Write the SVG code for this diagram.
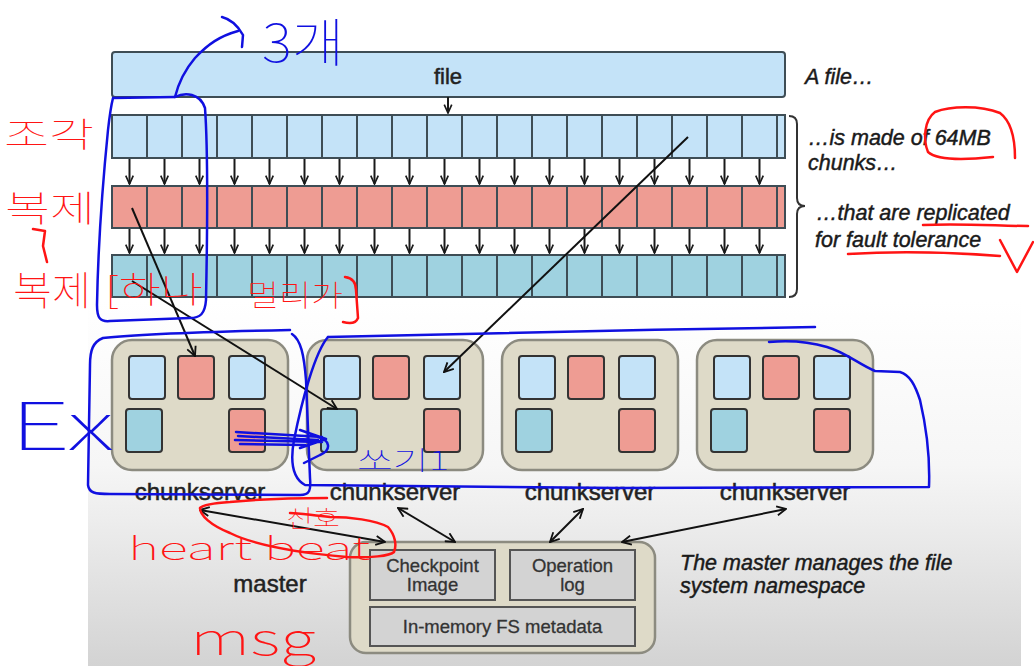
<svg xmlns="http://www.w3.org/2000/svg" width="1034" height="666" viewBox="0 0 1034 666">
<style>
.t{font-family:"Liberation Sans",Arial,sans-serif;fill:#222;stroke:#222;stroke-width:0.5}
.it{font-family:"Liberation Sans",Arial,sans-serif;font-style:italic;fill:#1a1a1a;stroke:#1a1a1a;stroke-width:0.45;font-size:21.5px}
.bar{stroke:#3e4d55;stroke-width:2}
.c1{fill:#c4e3f8}
.c2{fill:#ee9c93}
.c3{fill:#9fd2e0}
.div{stroke:#3e4d55;stroke-width:2}
.cs{fill:#dedac8;stroke:#8c8b80;stroke-width:2.5}
.sq{stroke:#333;stroke-width:2}
.ib{fill:#d3d3d3;stroke:#555;stroke-width:2}
.mt{font-family:"Liberation Sans",Arial,sans-serif;fill:#333;stroke:#333;stroke-width:0.3;font-size:18.5px;text-anchor:middle}
.ln{stroke:#111;stroke-width:2;fill:none}
.ra{stroke:#1a1a1a;stroke-width:2;fill:none}
.red{stroke:#ff1414;stroke-width:2.5;fill:none;stroke-linecap:round;stroke-linejoin:round}
.blue{stroke:#1010e0;stroke-width:2.5;fill:none;stroke-linecap:round;stroke-linejoin:round}
.rt{font-family:"Noto Sans CJK KR","Liberation Sans",sans-serif;fill:#ff1414;font-weight:100}
.bt{font-family:"Noto Sans CJK KR","Liberation Sans",sans-serif;fill:#1010e0;font-weight:100}
</style>
<defs>
<marker id="v" viewBox="0 0 12 12" refX="11" refY="6" markerWidth="11" markerHeight="11" markerUnits="userSpaceOnUse" orient="auto-start-reverse"><path d="M1,1 L11,6 L1,11" fill="none" stroke="#111" stroke-width="2"/></marker>
<marker id="vs" viewBox="0 0 12 12" refX="11" refY="6" markerWidth="10" markerHeight="10" markerUnits="userSpaceOnUse" orient="auto"><path d="M1,1.5 L11,6 L1,10.5" fill="none" stroke="#1a1a1a" stroke-width="2"/></marker>
<linearGradient id="bg" x1="0" y1="0" x2="0" y2="1">
<stop offset="0" stop-color="#ffffff"/>
<stop offset="0.45" stop-color="#f6f6f6"/>
<stop offset="0.6" stop-color="#ededed"/>
<stop offset="1" stop-color="#d3d3d3"/>
</linearGradient>
</defs>
<rect x="0" y="0" width="1034" height="666" fill="#ffffff"/>
<rect x="88" y="300" width="933" height="366" fill="url(#bg)"/>

<g id="file">
<rect x="112" y="52" width="673" height="45" rx="3" class="c1 bar" stroke-width="2.5"/>
<text x="448" y="84" class="t" font-size="22" text-anchor="middle">file</text>
<text x="805" y="84" class="it">A file…</text>
</g>

<g id="chunks-row">
<rect x="112" y="115" width="673" height="43" class="c1 bar"/>
<path class="div" d="M147,115V158M182,115V158M217,115V158M252,115V158M287,115V158M322,115V158M357,115V158M392,115V158M427,115V158M462,115V158M497,115V158M532,115V158M567,115V158M602,115V158M637,115V158M672,115V158M707,115V158M742,115V158M777,115V158"/>
<text x="808" y="145" class="it">…is made of 64MB</text>
<text x="808" y="170" class="it">chunks…</text>
</g>

<g id="replica-row-1">
<rect x="112" y="186" width="673" height="42" class="c2 bar"/>
<path class="div" d="M147,186V228M182,186V228M217,186V228M252,186V228M287,186V228M322,186V228M357,186V228M392,186V228M427,186V228M462,186V228M497,186V228M532,186V228M567,186V228M602,186V228M637,186V228M672,186V228M707,186V228M742,186V228M777,186V228"/>
</g>

<g id="replica-row-2">
<rect x="112" y="255" width="673" height="42" class="c3 bar"/>
<path class="div" d="M147,255V297M182,255V297M217,255V297M252,255V297M287,255V297M322,255V297M357,255V297M392,255V297M427,255V297M462,255V297M497,255V297M532,255V297M567,255V297M602,255V297M637,255V297M672,255V297M707,255V297M742,255V297M777,255V297"/>
</g>

<g id="brace">
<path d="M789,116 Q797,116 797,124 L797,198 Q797,206 805,206 Q797,206 797,214 L797,289 Q797,297 789,297" fill="none" stroke="#333" stroke-width="2"/>
<text x="816" y="220" class="it">…that are replicated</text>
<text x="815" y="247" class="it">for fault tolerance</text>
</g>

<g id="chunkserver-1">
<rect x="112" y="340" width="176" height="130" rx="20" class="cs"/>
<rect x="129" y="356" width="36" height="43" rx="3" class="sq c1"/>
<rect x="178" y="356" width="36" height="43" rx="3" class="sq c2"/>
<rect x="229" y="356" width="36" height="43" rx="3" class="sq c1"/>
<rect x="126" y="409" width="36" height="43" rx="3" class="sq c3"/>
<rect x="229" y="409" width="36" height="43" rx="3" class="sq c2"/>
<text x="200" y="500" class="t" font-size="24" text-anchor="middle">chunkserver</text>
</g>
<g id="chunkserver-2">
<rect x="307" y="340" width="176" height="130" rx="20" class="cs"/>
<rect x="324" y="356" width="36" height="43" rx="3" class="sq c1"/>
<rect x="373" y="356" width="36" height="43" rx="3" class="sq c2"/>
<rect x="424" y="356" width="36" height="43" rx="3" class="sq c1"/>
<rect x="321" y="409" width="36" height="43" rx="3" class="sq c3"/>
<rect x="424" y="409" width="36" height="43" rx="3" class="sq c2"/>
<text x="395" y="500" class="t" font-size="24" text-anchor="middle">chunkserver</text>
</g>
<g id="chunkserver-3">
<rect x="502" y="340" width="176" height="130" rx="20" class="cs"/>
<rect x="519" y="356" width="36" height="43" rx="3" class="sq c1"/>
<rect x="568" y="356" width="36" height="43" rx="3" class="sq c2"/>
<rect x="619" y="356" width="36" height="43" rx="3" class="sq c1"/>
<rect x="516" y="409" width="36" height="43" rx="3" class="sq c3"/>
<rect x="619" y="409" width="36" height="43" rx="3" class="sq c2"/>
<text x="590" y="500" class="t" font-size="24" text-anchor="middle">chunkserver</text>
</g>
<g id="chunkserver-4">
<rect x="697" y="340" width="176" height="130" rx="20" class="cs"/>
<rect x="714" y="356" width="36" height="43" rx="3" class="sq c1"/>
<rect x="763" y="356" width="36" height="43" rx="3" class="sq c2"/>
<rect x="814" y="356" width="36" height="43" rx="3" class="sq c1"/>
<rect x="711" y="409" width="36" height="43" rx="3" class="sq c3"/>
<rect x="814" y="409" width="36" height="43" rx="3" class="sq c2"/>
<text x="785" y="500" class="t" font-size="24" text-anchor="middle">chunkserver</text>
</g>

<g id="master">
<rect x="350" y="542" width="305" height="111" rx="16" class="cs"/>
<rect x="370" y="550" width="125" height="50" class="ib"/>
<rect x="510" y="550" width="125" height="50" class="ib"/>
<rect x="370" y="607" width="265" height="39" class="ib"/>
<text x="432.5" y="572" class="mt">Checkpoint</text>
<text x="432.5" y="591" class="mt">Image</text>
<text x="572.5" y="572" class="mt">Operation</text>
<text x="572.5" y="591" class="mt">log</text>
<text x="502.5" y="633" class="mt">In-memory FS metadata</text>
<text x="270" y="592" class="t" font-size="24" text-anchor="middle">master</text>
<text x="680" y="570" class="it" font-size="20.5">The master manages the file</text>
<text x="680" y="593" class="it" font-size="20.5">system namespace</text>
</g>

<g id="connectors">
<line x1="448" y1="97" x2="448" y2="113" class="ra" marker-end="url(#vs)"/>
<path class="ra" marker-end="url(#vs)" d="M129.5,159V184"/>
<path class="ra" marker-end="url(#vs)" d="M164.5,159V184"/>
<path class="ra" marker-end="url(#vs)" d="M199.5,159V184"/>
<path class="ra" marker-end="url(#vs)" d="M234.5,159V184"/>
<path class="ra" marker-end="url(#vs)" d="M269.5,159V184"/>
<path class="ra" marker-end="url(#vs)" d="M304.5,159V184"/>
<path class="ra" marker-end="url(#vs)" d="M339.5,159V184"/>
<path class="ra" marker-end="url(#vs)" d="M374.5,159V184"/>
<path class="ra" marker-end="url(#vs)" d="M409.5,159V184"/>
<path class="ra" marker-end="url(#vs)" d="M444.5,159V184"/>
<path class="ra" marker-end="url(#vs)" d="M479.5,159V184"/>
<path class="ra" marker-end="url(#vs)" d="M514.5,159V184"/>
<path class="ra" marker-end="url(#vs)" d="M549.5,159V184"/>
<path class="ra" marker-end="url(#vs)" d="M584.5,159V184"/>
<path class="ra" marker-end="url(#vs)" d="M619.5,159V184"/>
<path class="ra" marker-end="url(#vs)" d="M654.5,159V184"/>
<path class="ra" marker-end="url(#vs)" d="M689.5,159V184"/>
<path class="ra" marker-end="url(#vs)" d="M724.5,159V184"/>
<path class="ra" marker-end="url(#vs)" d="M759.5,159V184"/>
<path class="ra" marker-end="url(#vs)" d="M129.5,229V253"/>
<path class="ra" marker-end="url(#vs)" d="M164.5,229V253"/>
<path class="ra" marker-end="url(#vs)" d="M199.5,229V253"/>
<path class="ra" marker-end="url(#vs)" d="M234.5,229V253"/>
<path class="ra" marker-end="url(#vs)" d="M269.5,229V253"/>
<path class="ra" marker-end="url(#vs)" d="M304.5,229V253"/>
<path class="ra" marker-end="url(#vs)" d="M339.5,229V253"/>
<path class="ra" marker-end="url(#vs)" d="M374.5,229V253"/>
<path class="ra" marker-end="url(#vs)" d="M409.5,229V253"/>
<path class="ra" marker-end="url(#vs)" d="M444.5,229V253"/>
<path class="ra" marker-end="url(#vs)" d="M479.5,229V253"/>
<path class="ra" marker-end="url(#vs)" d="M514.5,229V253"/>
<path class="ra" marker-end="url(#vs)" d="M549.5,229V253"/>
<path class="ra" marker-end="url(#vs)" d="M584.5,229V253"/>
<path class="ra" marker-end="url(#vs)" d="M619.5,229V253"/>
<path class="ra" marker-end="url(#vs)" d="M654.5,229V253"/>
<path class="ra" marker-end="url(#vs)" d="M689.5,229V253"/>
<path class="ra" marker-end="url(#vs)" d="M724.5,229V253"/>
<path class="ra" marker-end="url(#vs)" d="M759.5,229V253"/>
<line x1="132" y1="208" x2="195" y2="356" class="ln" marker-end="url(#v)"/>
<line x1="132" y1="281" x2="337" y2="409" class="ln" marker-end="url(#v)"/>
<line x1="688" y1="137" x2="444" y2="372" class="ln" marker-end="url(#v)"/>
<line x1="200" y1="510" x2="385" y2="542" class="ln" marker-start="url(#v)" marker-end="url(#v)"/>
<line x1="398" y1="508" x2="455" y2="542" class="ln" marker-start="url(#v)" marker-end="url(#v)"/>
<line x1="583" y1="509" x2="550" y2="542" class="ln" marker-start="url(#v)" marker-end="url(#v)"/>
<line x1="786" y1="509" x2="622" y2="542" class="ln" marker-start="url(#v)" marker-end="url(#v)"/>
</g>

<g id="annotations">
<path class="blue" d="M113,98 L175,97 C185,92 200,93 205,108 C208,150 207,250 206,300 C205,314 200,318 190,318 L110,321 C100,322 97,318 97,305 C98,250 103,180 108,130 C110,112 112,102 113,98"/>
<path class="blue" d="M175,97 C178,85 183,72 195,58 C208,44 220,36 238,31"/>
<path class="blue" d="M222,17 C230,19 238,26 243,35 L242,47"/>
<text x="262" y="62" class="bt" font-size="52" textLength="82" lengthAdjust="spacingAndGlyphs">3개</text>
<path class="blue" d="M290,330 C200,332 140,334 103,338 C93,342 90,350 90,365 L88,485 C89,493 95,494 110,494 L300,495 C310,495 311,490 310,478 L306,380 C304,355 301,340 292,334"/>
<path class="blue" d="M328,337 C450,333 650,330 815,327"/>
<path class="blue" d="M328,337 C315,352 302,400 294,440 C290,462 292,478 305,485 L620,488 L929,487 C930,460 927,430 920,400 C915,385 910,375 900,372 L875,371 C860,365 845,352 827,347 C810,342 790,340 769,342"/>
<path class="blue" d="M236,432 L322,437 M238,436 L318,440 M235,440 L322,442 M240,444 L305,445 M300,430 L326,439 L300,448 M318,437 C330,440 332,450 320,455 L304,463"/>
<text x="10" y="450" class="bt" font-size="66" textLength="104" lengthAdjust="spacingAndGlyphs">Ex</text>
<text x="357" y="470" class="bt" font-size="26" textLength="92" lengthAdjust="spacingAndGlyphs">쏘기1</text>
<text x="4" y="147" class="rt" font-size="34" textLength="90" lengthAdjust="spacingAndGlyphs">조각</text>
<text x="5" y="222" class="rt" font-size="36" textLength="90" lengthAdjust="spacingAndGlyphs">복제</text>
<path class="red" d="M33,229 L45,231 L43,246 L47,262"/>
<text x="13" y="305" class="rt" font-size="40" textLength="78" lengthAdjust="spacingAndGlyphs">복제</text>
<text x="105" y="303" class="rt" font-size="36" textLength="98" lengthAdjust="spacingAndGlyphs">[하나</text>
<text x="247" y="306" class="rt" font-size="30" textLength="96" lengthAdjust="spacingAndGlyphs">멀리가</text>
<path class="red" d="M345,277 C352,278 356,282 356,290 L358,318 C356,323 350,324 343,322"/>
<path class="red" d="M1015,158 C1015,140 1012,122 1000,113 C980,105 950,106 935,112 C924,120 923,140 928,152 C938,161 965,160 993,157"/>
<path class="red" d="M923,225 C960,223 1000,226 1028,226"/>
<path class="red" d="M848,254 C900,251 960,253 1000,256"/>
<path class="red" d="M1000,240 L1017,272 L1033,242"/>
<path class="red" d="M327,498 C290,498 250,500 230,502 C215,503 203,505 200,508 C200,515 210,525 230,533 C250,543 290,552 347,557 C370,558 390,556 394,552 C397,545 395,535 388,527 C375,520 350,517 330,517 C310,515 298,513 290,513"/>
<text x="286" y="527" class="rt" font-size="24" textLength="54" lengthAdjust="spacingAndGlyphs">신호</text>
<text x="128" y="560" class="rt" font-size="32" textLength="242" lengthAdjust="spacingAndGlyphs">heart beat</text>
<text x="190" y="655" class="rt" font-size="44" textLength="126" lengthAdjust="spacingAndGlyphs">msg</text>
</g>
</svg>
